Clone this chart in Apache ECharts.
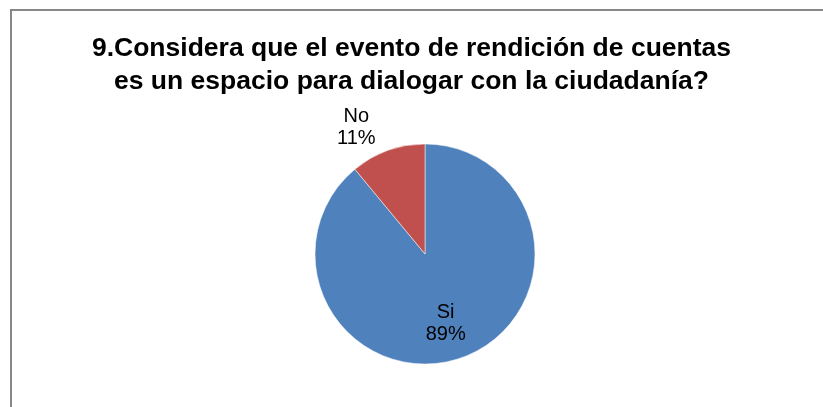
<!DOCTYPE html>
<html>
<head>
<meta charset="utf-8">
<script src="https://cdn.jsdelivr.net/npm/echarts@6/dist/echarts.min.js"></script>
<style>
  html, body { margin: 0; padding: 0; background: #fff; }
  #chart { width: 823px; height: 407px; }
</style>
</head>
<body>
<div id="chart"></div>
<script>
const titleText = '9.Considera que el evento de rendición de cuentas\nes un espacio para dialogar con la ciudadanía?'
const categories = ['Si', 'No']
const values = [89, 11]
const colors = ['#4F81BD', '#C0504D']

// label nudges from the default inside position (Si, No)
const labelShift = [[1, 15], [-49, -72]]

let chart = echarts.init(document.getElementById('chart'))
chart.setOption({
    animation: false,
    title: {
        text: titleText,
        left: 'center',
        top: 27,
        textStyle: {
            fontFamily: 'Liberation Sans, Arial',
            fontWeight: 'bold',
            fontSize: 26.5,
            lineHeight: 33,
            color: '#000'
        }
    },
    graphic: [{
        type: 'rect',
        shape: { x: 11, y: 10, width: 900, height: 500 },
        style: { fill: 'none', stroke: '#878787', lineWidth: 2 },
        silent: true
    }],
    series: [{
        type: 'pie',
        center: [425, 254],
        radius: 110,
        startAngle: 90,
        clockwise: true,
        data: categories.map((c, i) => ({
            name: c,
            value: values[i],
            itemStyle: { color: colors[i] }
        })),
        itemStyle: { borderColor: '#fff', borderWidth: 0.5 },
        label: {
            position: 'inside',
            formatter: '{b}\n{d}%',
            fontFamily: 'Liberation Sans, Arial',
            fontSize: 20,
            lineHeight: 22,
            color: '#000'
        },
        labelLine: { show: false },
        labelLayout: params => ({
            dx: labelShift[params.dataIndex][0],
            dy: labelShift[params.dataIndex][1]
        })
    }]
})
</script>
</body>
</html>
